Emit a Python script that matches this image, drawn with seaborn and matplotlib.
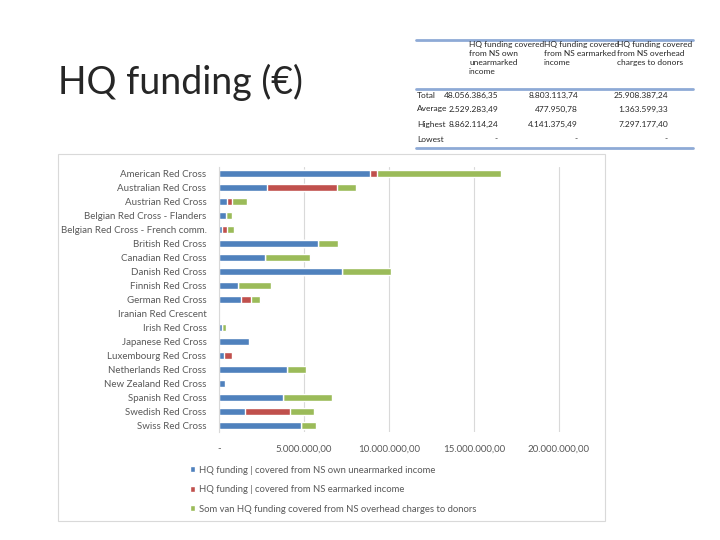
import seaborn as sns
import matplotlib.pyplot as plt
import matplotlib.ticker as mticker
from matplotlib.lines import Line2D
from matplotlib.patches import Rectangle
import pandas as pd

# values in euro
societies = ['American Red Cross', 'Australian Red Cross', 'Austrian Red Cross',
             'Belgian Red Cross - Flanders', 'Belgian Red Cross - French comm.',
             'British Red Cross', 'Canadian Red Cross', 'Danish Red Cross',
             'Finnish Red Cross', 'German Red Cross', 'Iranian Red Crescent',
             'Irish Red Cross', 'Japanese Red Cross', 'Luxembourg Red Cross',
             'Netherlands Red Cross', 'New Zealand Red Cross', 'Spanish Red Cross',
             'Swedish Red Cross', 'Swiss Red Cross']
unearmarked = [8862114, 2830000, 470000, 430000, 200000, 5820000, 2690000, 7230000,
               1100000, 1280000, 0, 200000, 1750000, 310000, 4010000, 330000,
               3750000, 1510000, 4810000]
earmarked = [450000, 4141375, 280000, 0, 250000, 0, 0, 0,
             0, 590000, 0, 0, 0, 440000, 0, 0,
             0, 2660000, 0]
overhead = [7297177, 1100000, 880000, 360000, 450000, 1210000, 2690000, 2890000,
            1950000, 530000, 0, 190000, 0, 20000, 1100000, 0,
            2890000, 1410000, 890000]

legend_labels = ['HQ funding | covered from NS own unearmarked income',
                 'HQ funding | covered from NS earmarked income',
                 'Som van HQ funding covered from NS overhead charges to donors']

table_cols = ['HQ funding covered\nfrom NS own\nunearmarked\nincome',
              'HQ funding covered\nfrom NS earmarked\nincome',
              'HQ funding covered\nfrom NS overhead\ncharges to donors']
table_rows = ['Total', 'Average', 'Highest', 'Lowest']
table_vals = [['48.056.386,35', '8.803.113,74', '25.908.387,24'],
              ['2.529.283,49', '477.950,78', '1.363.599,33'],
              ['8.862.114,24', '4.141.375,49', '7.297.177,40'],
              ['-', '-', '-']]

df = pd.DataFrame({'society': societies, 'blue': unearmarked,
                   'red': earmarked, 'green': overhead})
df['c1'] = df['blue']
df['c2'] = df['c1'] + df['red']
df['c3'] = df['c2'] + df['green']

sns.set_style('white')
plt.rcParams['font.family'] = ['Lato', 'DejaVu Sans']

fig = plt.figure(figsize=(7.2, 5.4), dpi=100)

# chart frame
fig.add_artist(Rectangle((58 / 720, 19 / 540), 547 / 720, 367 / 540,
                         transform=fig.transFigure, fill=False,
                         edgecolor='#d9d9d9', linewidth=0.8))

ax = fig.add_axes([219 / 720, 108 / 540, 384 / 720, 265 / 540])

blue_c = '#4f81bd'
red_c = '#c0504d'
green_c = '#9bbb59'

sns.barplot(data=df, y='society', x='c3', color=green_c, width=0.5,
            saturation=1, ax=ax, label=legend_labels[2])
sns.barplot(data=df, y='society', x='c2', color=red_c, width=0.5,
            saturation=1, ax=ax, label=legend_labels[1])
sns.barplot(data=df, y='society', x='c1', color=blue_c, width=0.5,
            saturation=1, ax=ax, label=legend_labels[0])

ax.set_xlim(0, 22.6e6)
ax.set_ylim(18.5, -0.5)
ax.set_xticks([0, 5e6, 10e6, 15e6, 20e6])


def euro(v, pos):
    if v == 0:
        return '-'
    return f'{v:,.2f}'.replace(',', 'X').replace('.', ',').replace('X', '.')


ax.xaxis.set_major_formatter(mticker.FuncFormatter(euro))
ax.set_xlabel('')
ax.set_ylabel('')
ax.grid(axis='x', color='#d9d9d9', linewidth=0.8)
ax.set_axisbelow(True)
for s in ['top', 'right', 'bottom']:
    ax.spines[s].set_visible(False)
ax.spines['left'].set_color('#d9d9d9')
ax.tick_params(axis='both', length=0, labelsize=7, labelcolor='#595959')
ax.tick_params(axis='x', pad=9)
ax.tick_params(axis='y', pad=9)

handles, labels = ax.get_legend_handles_labels()
order = [labels.index(l) for l in legend_labels]
ax.legend([handles[i] for i in order], [labels[i] for i in order],
          loc='upper left', bbox_to_anchor=(186 / 720, 78 / 540),
          bbox_transform=fig.transFigure, frameon=False, fontsize=6.8,
          labelcolor='#595959', handlelength=0.6, handleheight=0.6,
          handletextpad=0.4, labelspacing=1.1, borderaxespad=0)

# title
fig.text(58 / 720, 1 - 82 / 540, 'HQ funding (€)', fontsize=27, color='#262626',
         va='center', ha='left')

# summary table
line_c = '#8eaad6'
for y in [40, 89, 148]:
    fig.add_artist(Line2D([416 / 720, 693 / 720], [1 - y / 540] * 2,
                          transform=fig.transFigure, color=line_c, linewidth=2.0))

col_left = [469, 544, 617]
col_right = [498, 578, 668]
for x, txt in zip(col_left, table_cols):
    fig.text(x / 720, 1 - 41 / 540, txt, fontsize=6, color='#262626',
             va='top', ha='left', linespacing=1.35)

row_y = [95, 109, 124, 139]
for y, name, vals in zip(row_y, table_rows, table_vals):
    fig.text(417 / 720, 1 - y / 540, name, fontsize=6, color='#262626',
             va='center', ha='left')
    for xr, v in zip(col_right, vals):
        fig.text(xr / 720, 1 - y / 540, v, fontsize=6, color='#262626',
                 va='center', ha='right')

fig.savefig('out.png', dpi=100)
